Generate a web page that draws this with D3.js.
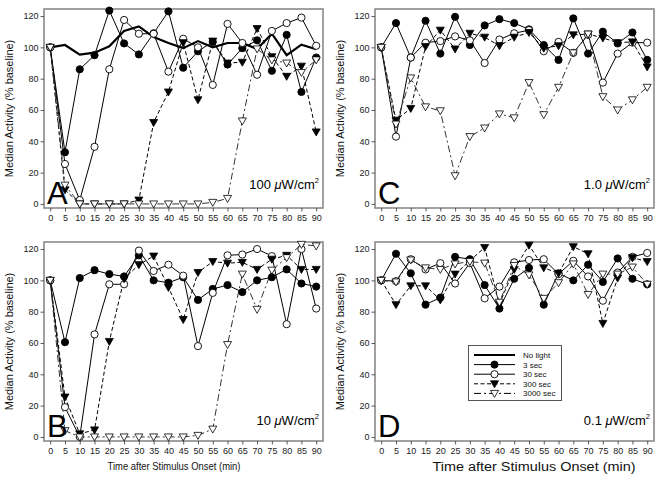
<!DOCTYPE html>
<html><head><meta charset="utf-8">
<script src="https://cdn.jsdelivr.net/npm/d3@7"></script>
<style>body{margin:0;background:#fff}svg{display:block;font-family:"Liberation Sans",Arial,sans-serif}</style>
</head><body><svg id="c" width="663" height="484"></svg>
<script>
const times = [0,5,10,15,20,25,30,35,40,45,50,55,60,65,70,75,80,85,90];
const yTicks = [0,20,40,60,80,100,120];
const seriesNames = ["No light","3 sec","30 sec","300 sec","3000 sec"];
const panelLetters = ["A","B","C","D"];
const intensities = ["100","10","1.0","0.1"];

const noLightA = [100,101.5,95.4,96.6,100.7,110.5,113.4,106.6,102.8,99.5,104,100,102.8,102.8,99,108.7,95,101.7,98.8];
const a3    = [100,33,86,95,123.5,102.5,95.5,109,123,87,97.5,103.5,89,99.5,104.5,85,108,71.5,93.5];
const a30   = [100,25.5,2.5,36.5,86,117.5,108.7,108.7,84.5,105.5,100,76,115,102.8,82.5,110.5,115.5,119,101];
const a300  = [100,9,0,0,0,0,2.5,52,71.5,103,66.5,104,90,90.5,112,94,81.5,88,46];
const a3000 = [100,12,0,0,0,0,0,0,0,0,0,1,3.5,53,99,92,90,84,92];

const b3    = [100,60.5,101.5,106.5,104,102.5,116,100,98.5,102,87.5,94.5,97,92.5,100,102,107,98,96];
const b30   = [100,19,0,65.5,97.5,97.5,119,106,110,103,58,92,116,116.5,120,115.5,72,120,82];
const b300  = [100,25.5,2,4.5,61,101,110,115.5,95.5,75,105,112,111,111.5,107,113.5,116,107,107];
const b3000 = [100,4,0,0,0,0,0,0,0,0,1,5,59,104,81.5,106.5,114.5,123,122];

const c3    = [100,115.5,93.5,117,96,119.5,101.5,114,118,115.5,111.5,101.5,92,118.5,96,110,102.5,109.5,92];
const c30   = [100,43,93.5,103,104,107,104.5,90,105,109,111,97.5,103.5,96.5,108,77.5,96,103,103];
const c300  = [100,53.5,61,100.5,111,99,109,106.5,101,106.5,109.5,99.5,101,108,108.5,106,103,103.5,87.5];
const c3000 = [100,51,80.5,62,59.5,18,43,48.5,57.5,55,77.5,57,74.5,96.5,108.5,68.5,60,66.5,74.5];

const d3v   = [100,117,104.5,84.5,89,115,113.5,97,82,101,108,84.5,104.5,100,110,99,114,101,97.5];
const d30   = [100,99.5,113.5,107,111,98,111,88.5,96,111.5,113,113.5,104,112.5,102.5,87,105,115,117.5];
const d300  = [100,84.5,96.5,96.5,87.5,104,112.5,121,85,107,122.5,108,104.5,121.5,117,72.5,101.5,114.5,112];
const d3000 = [100,99,113,108,107,110.5,112,111,86,109.5,103.5,88.5,98.5,110.5,91,104,104,108.5,97.5];

const panelData = [
  [noLightA, a3, a30, a300, a3000],
  [null, b3, b30, b300, b3000],
  [null, c3, c30, c300, c3000],
  [null, d3v, d30, d300, d3000]
];

const svg = d3.select("#c");
const W = 279, H = 199;
const origins = [[44,9],[44,242],[375,9],[375,242]];
const styles = [
  {w:2.2, dash:null, marker:null},
  {w:1, dash:null, marker:"circle", fill:"#000"},
  {w:1, dash:null, marker:"circle", fill:"#fff"},
  {w:1, dash:"4,2.5", marker:"tri", fill:"#000"},
  {w:1, dash:"7,3,2,3", marker:"tri", fill:"#fff"}
];
const triPath = "M-4,-3 L4,-3 L0,4 Z";

function drawMarker(g, st, x, y) {
  if (st.marker === "circle") {
    g.append("circle").attr("cx", x).attr("cy", y).attr("r", 3.6)
      .attr("fill", st.fill).attr("stroke", "#000").attr("stroke-width", 0.9);
  } else if (st.marker === "tri") {
    g.append("path").attr("d", triPath).attr("transform", `translate(${x},${y})`)
      .attr("fill", st.fill).attr("stroke", "#000").attr("stroke-width", 0.8);
  }
}

panelData.forEach((series, pi) => {
  const [ox, oy] = origins[pi];
  const x = d3.scaleLinear().domain([-2.1, 92.3]).range([ox, ox + W]);
  const y = d3.scaleLinear().domain([-2.6, 124.5]).range([oy + H, oy]);
  const g = svg.append("g");

  // frame
  g.append("rect").attr("x", ox).attr("y", oy).attr("width", W).attr("height", H)
    .attr("fill", "none").attr("stroke", "#8a8a8a").attr("stroke-width", 1.6);

  // axes
  const yAx = g.append("g").attr("transform", `translate(${ox},0)`)
    .call(d3.axisLeft(y).tickValues(yTicks).tickSize(3.5).tickPadding(2));
  const xAx = g.append("g").attr("transform", `translate(0,${oy + H})`)
    .call(d3.axisBottom(x).tickValues(times).tickSize(3.5).tickPadding(3));
  [yAx, xAx].forEach(a => {
    a.select(".domain").remove();
    a.selectAll(".tick line").attr("stroke", "#333").attr("stroke-width", 0.8);
    a.selectAll(".tick text").attr("font-size", 9).attr("fill", "#222")
      .attr("font-family", "Liberation Sans, Arial, sans-serif");
  });

  // y title
  g.append("text")
    .attr("transform", `translate(${ox - 31},${oy + H / 2}) rotate(-90)`)
    .attr("text-anchor", "middle").attr("font-size", 11).attr("fill", "#111")
    .text("Median Activity (% baseline)");

  // series
  series.forEach((vals, si) => {
    if (!vals) return;
    const st = styles[si];
    const pts = times.map((t, i) => [x(t), y(vals[i])]);
    g.append("path").attr("d", d3.line()(pts)).attr("fill", "none")
      .attr("stroke", si === 4 ? "#333" : "#000").attr("stroke-width", st.w)
      .attr("stroke-dasharray", st.dash);
  });
  series.forEach((vals, si) => {
    if (!vals) return;
    const st = styles[si];
    times.forEach((t, i) => drawMarker(g, st, x(t), y(vals[i])));
  });

  // panel letter
  g.append("text").attr("x", ox + 3).attr("y", oy + H - 4)
    .attr("font-size", 31).attr("fill", "#000").text(panelLetters[pi]);

  // intensity label
  const lab = g.append("text").attr("x", ox + W - 4).attr("y", oy + H - (pi % 2 ? 16 : 19))
    .attr("text-anchor", "end").attr("font-size", 13).attr("fill", "#000");
  lab.append("tspan").text(intensities[pi] + " ");
  lab.append("tspan").attr("font-style", "italic").text("\u03BC");
  lab.append("tspan").text("W/cm");
  lab.append("tspan").attr("font-size", 7.5).attr("dy", -6).text("2");
});

// x titles
svg.append("text").attr("x", 174).attr("y", 470).attr("text-anchor", "middle")
  .attr("font-size", 10.5).attr("textLength", 133).attr("lengthAdjust", "spacingAndGlyphs")
  .attr("fill", "#111").text("Time after Stimulus Onset (min)");
svg.append("text").attr("x", 534).attr("y", 471).attr("text-anchor", "middle")
  .attr("font-size", 12).attr("textLength", 203).attr("lengthAdjust", "spacingAndGlyphs")
  .attr("fill", "#111").text("Time after Stimulus Onset (min)");

// legend
const lg = svg.append("g");
lg.append("rect").attr("x", 468.5).attr("y", 345.5).attr("width", 93).attr("height", 55)
  .attr("fill", "#fff").attr("stroke", "#555").attr("stroke-width", 1);
seriesNames.forEach((name, i) => {
  const st = styles[i];
  const yy = 355 + i * 9.6;
  lg.append("line").attr("x1", 474).attr("x2", 515).attr("y1", yy).attr("y2", yy)
    .attr("stroke", "#000").attr("stroke-width", st.w).attr("stroke-dasharray", st.dash);
  drawMarker(lg, st, 494.5, yy);
  lg.append("text").attr("x", 523).attr("y", yy + 3).attr("font-size", 8)
    .attr("fill", "#111").text(name);
});
</script></body></html>
